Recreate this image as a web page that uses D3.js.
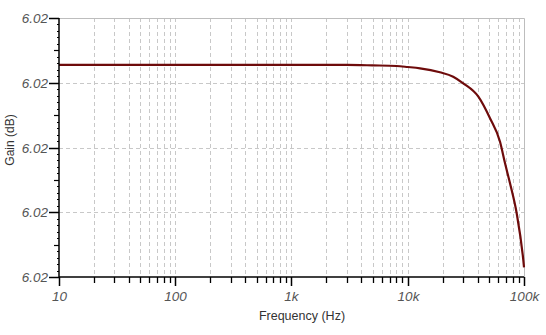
<!DOCTYPE html>
<html><head><meta charset="utf-8">
<script src="https://cdn.jsdelivr.net/npm/d3@7"></script>
<style>body{margin:0;background:#fff}svg{display:block}</style>
</head><body>
<script>
const freqs = [10, 100, 1000, 3000, 5000, 8000, 10000, 12750, 18900, 24600, 30000, 40500, 51000, 62200, 68700, 75800, 86500, 98600, 100000];
const gains = [6.02255, 6.02255, 6.02255, 6.02255, 6.022536, 6.022517, 6.022486, 6.022446, 6.022323, 6.022187, 6.021983, 6.021569, 6.020902, 6.020179, 6.019512, 6.018894, 6.017968, 6.016525, 6.01630];
const xTickVals = [10, 100, 1000, 10000, 100000];
const xTickLabels = ["10", "100", "1k", "10k", "100k"];
const yTickVals = [6.016, 6.018, 6.020, 6.022, 6.024];
const yTickLabels = ["6.02", "6.02", "6.02", "6.02", "6.02"];
const xTitle = "Frequency (Hz)";
const yTitle = "Gain (dB)";

const W = 546, H = 335;
const m = {l: 59, r: 22, t: 18, b: 58};
const svg = d3.select("body").append("svg").attr("width", W).attr("height", H);
const x = d3.scaleLog().domain([10, 100000]).range([m.l, W - m.r]);
const y = d3.scaleLinear().domain([6.016, 6.024]).range([H - m.b, m.t]);

const minors = [];
for (let d = 10; d < 100000; d *= 10) for (let k = 2; k <= 9; k++) minors.push(d * k);

const grid = svg.append("g").attr("stroke", "#c8c8c8").attr("stroke-width", 1).attr("stroke-dasharray", "4,3");
minors.concat(xTickVals.slice(1, -1)).forEach(v => {
  const px = Math.round(x(v)) + 0.5;
  grid.append("line").attr("x1", px).attr("x2", px).attr("y1", m.t).attr("y2", H - m.b);
});
yTickVals.slice(1, -1).forEach(v => {
  const py = Math.round(y(v)) + 0.5;
  grid.append("line").attr("x1", m.l).attr("x2", W - m.r).attr("y1", py).attr("y2", py);
});
svg.append("path").attr("fill", "none").attr("stroke", "#bdbdbd").attr("stroke-width", 1)
  .attr("d", `M${m.l},${m.t + 0.5}H${W - m.r + 0.5}V${H - m.b}`);

const line = d3.line().x((d, i) => x(freqs[i])).y(d => y(d)).curve(d3.curveMonotoneX);
svg.append("path").datum(gains).attr("fill", "none").attr("stroke", "#6e0b0b").attr("stroke-width", 2.2).attr("d", line);

const xAxis = svg.append("g").attr("transform", `translate(0,${H - m.b})`);
xAxis.append("line").attr("x1", m.l).attr("x2", W - m.r).attr("stroke", "#000").attr("stroke-width", 1.5);
minors.forEach(v => xAxis.append("line").attr("x1", Math.round(x(v)) + 0.5).attr("x2", Math.round(x(v)) + 0.5).attr("y1", 0).attr("y2", 6).attr("stroke", "#000").attr("stroke-width", 1.3));
xTickVals.forEach((v, i) => {
  const px = Math.round(x(v)) + 0.5;
  xAxis.append("line").attr("x1", px).attr("x2", px).attr("y1", 0).attr("y2", 9).attr("stroke", "#000").attr("stroke-width", 1.5);
  xAxis.append("text").attr("x", px).attr("y", 24).attr("text-anchor", "middle")
    .attr("font-family", "Liberation Sans, Arial, sans-serif").attr("font-size", 13.5).attr("font-style", "italic").attr("fill", "#555").text(xTickLabels[i]);
});

const yAxis = svg.append("g").attr("transform", `translate(${m.l},0)`);
yAxis.append("line").attr("y1", m.t).attr("y2", H - m.b).attr("stroke", "#000").attr("stroke-width", 1.5);
for (let i = 0; i < yTickVals.length - 1; i++) {
  for (let k = 1; k < 10; k++) {
    const v = yTickVals[i] + (yTickVals[i + 1] - yTickVals[i]) * k / 10;
    const py = Math.round(y(v)) + 0.5;
    yAxis.append("line").attr("x1", k === 5 ? -5 : -2).attr("x2", 0).attr("y1", py).attr("y2", py).attr("stroke", "#000").attr("stroke-width", 1.2);
  }
}
yTickVals.forEach((v, i) => {
  const py = Math.round(y(v)) + 0.5;
  yAxis.append("line").attr("x1", -10).attr("x2", 0).attr("y1", py).attr("y2", py).attr("stroke", "#000").attr("stroke-width", 1.5);
  yAxis.append("text").attr("x", -11).attr("y", py).attr("dy", "0.35em").attr("text-anchor", "end")
    .attr("font-family", "Liberation Sans, Arial, sans-serif").attr("font-size", 13.5).attr("font-style", "italic").attr("fill", "#555").text(yTickLabels[i]);
});

svg.append("text").attr("x", 302).attr("y", 320).attr("text-anchor", "middle")
  .attr("font-family", "Liberation Sans, Arial, sans-serif").attr("font-size", 12.5).attr("fill", "#333").text(xTitle);
svg.append("text").attr("transform", "translate(14,140) rotate(-90)").attr("text-anchor", "middle")
  .attr("font-family", "Liberation Sans, Arial, sans-serif").attr("font-size", 12).attr("fill", "#333").text(yTitle);
</script>
</body></html>
